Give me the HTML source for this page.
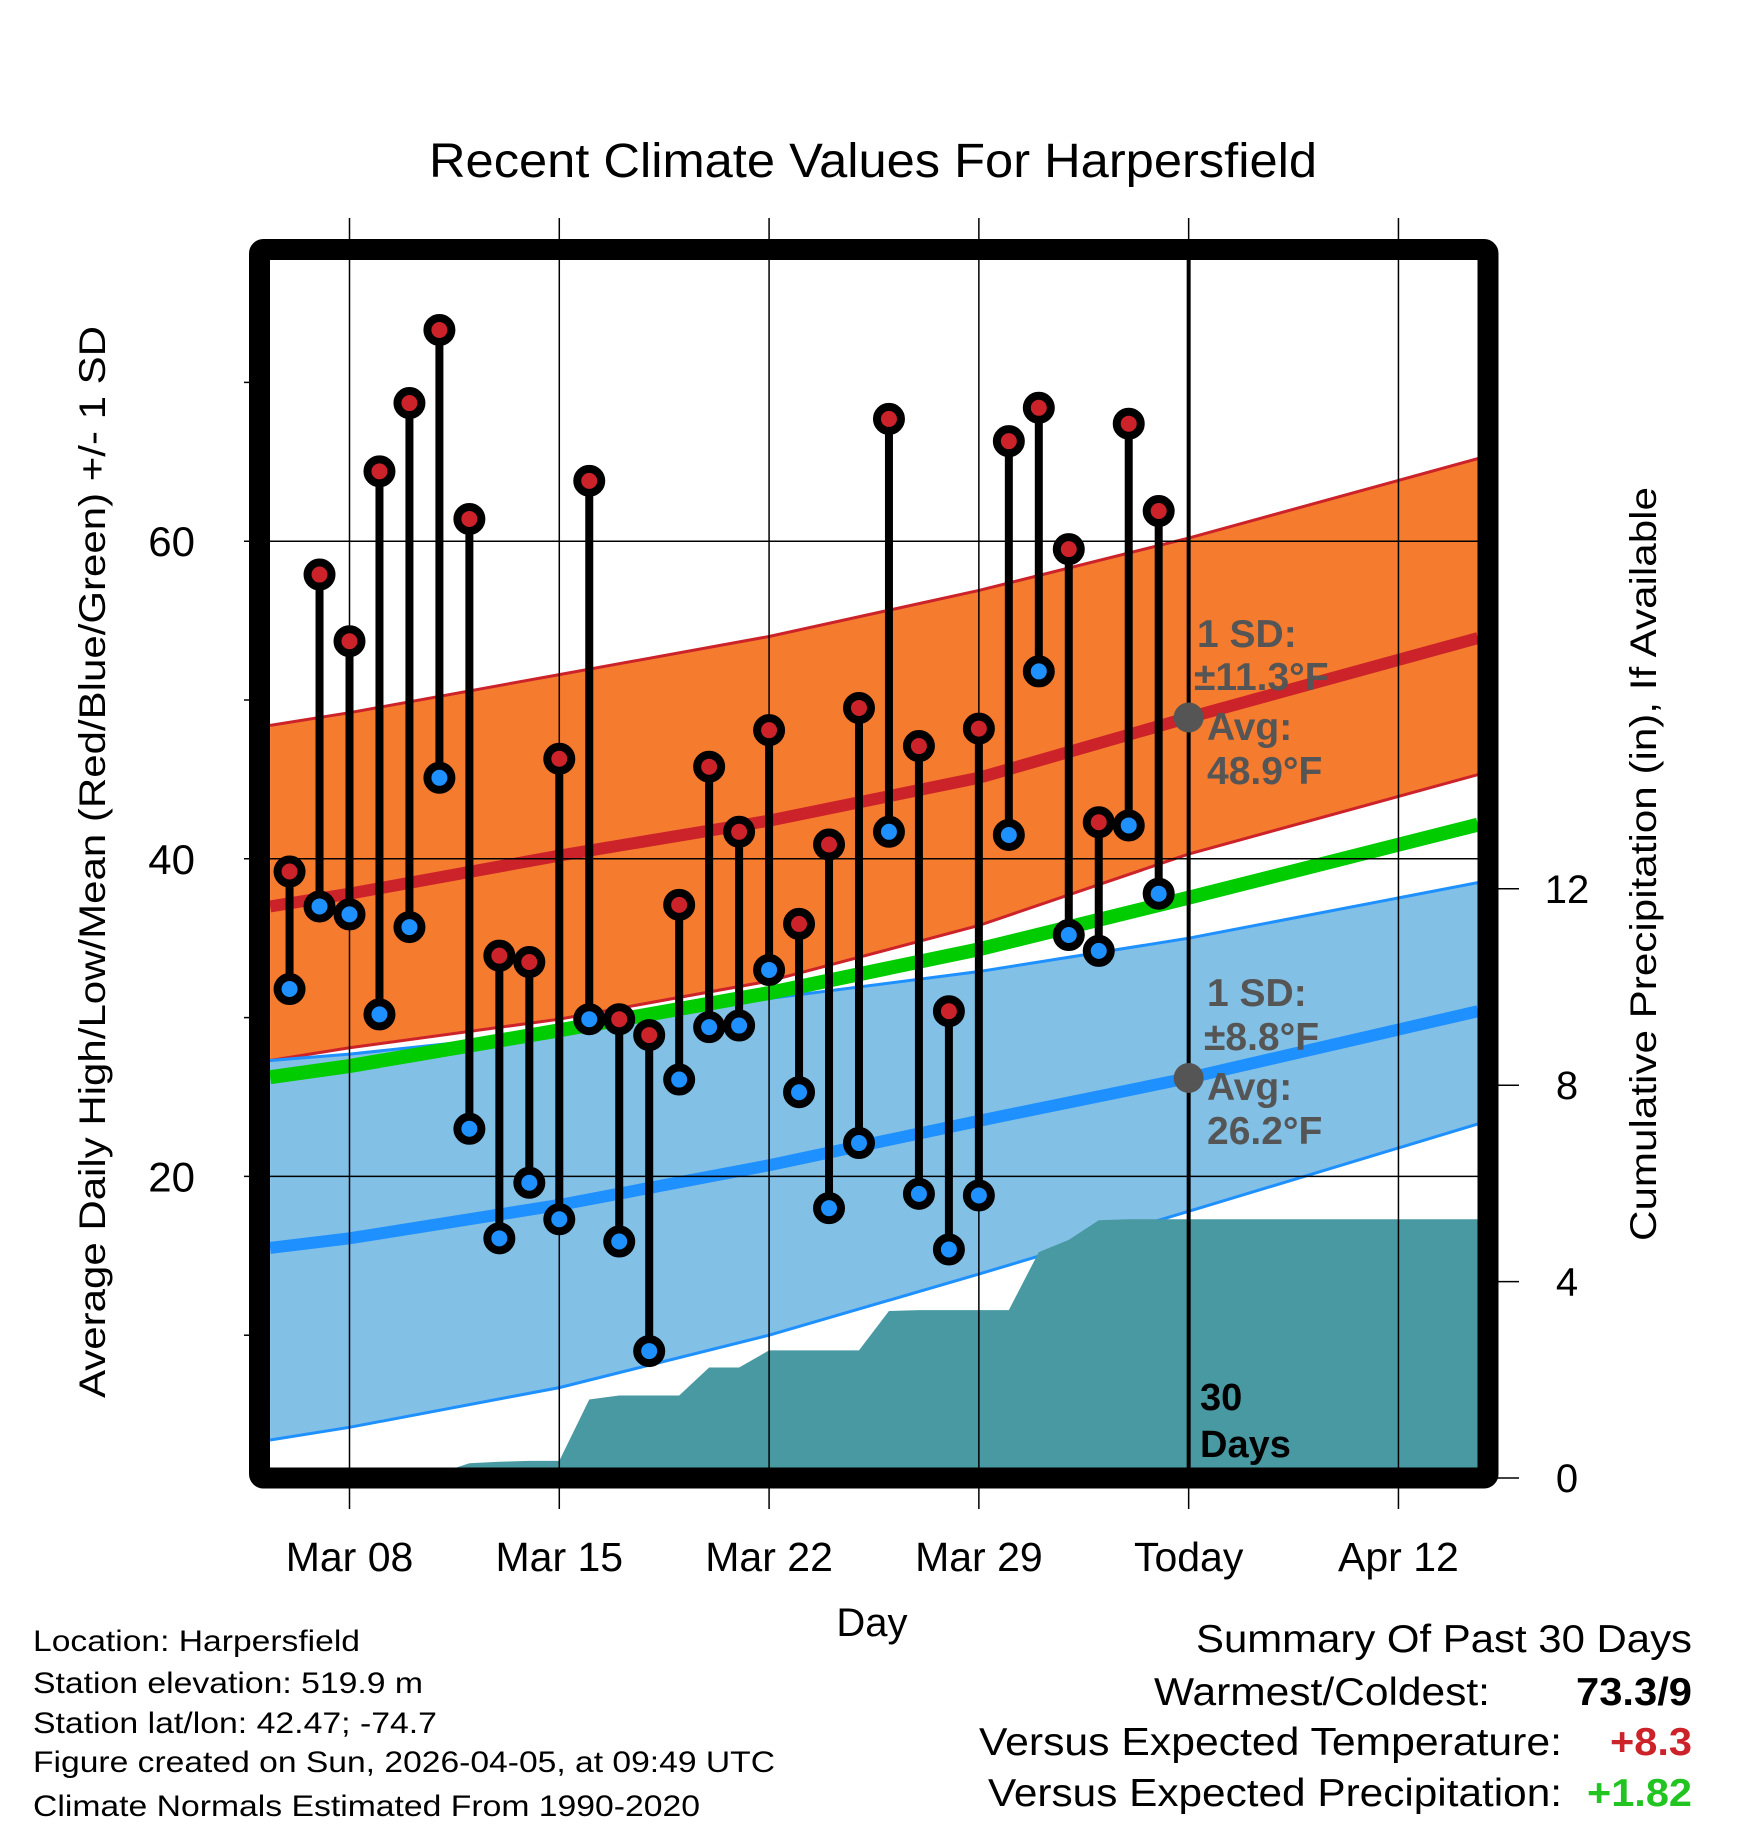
<!DOCTYPE html>
<html><head><meta charset="utf-8"><style>
html,body{margin:0;padding:0;background:#fff;}
svg{display:block;font-family:"Liberation Sans",Arial,sans-serif;}
</style></head><body>
<svg id="chart" width="1748" height="1828" viewBox="0 0 1748 1828" xmlns="http://www.w3.org/2000/svg">
<rect x="0" y="0" width="1748" height="1828" fill="#fff"/>
<text x="873" y="177" font-size="48" text-anchor="middle" textLength="888" lengthAdjust="spacingAndGlyphs">Recent Climate Values For Harpersfield</text>
<g id="plot"></g>
<text x="872" y="1636" font-size="40" text-anchor="middle">Day</text>
<text transform="translate(105,862) rotate(-90)" font-size="37" text-anchor="middle" textLength="1072" lengthAdjust="spacingAndGlyphs">Average Daily High/Low/Mean (Red/Blue/Green) +/- 1 SD</text>
<text transform="translate(1656,864) rotate(-90)" font-size="37" text-anchor="middle" textLength="754" lengthAdjust="spacingAndGlyphs">Cumulative Precipitation (in), If Available</text>
<g font-size="30">
<text x="33" y="1651" textLength="327" lengthAdjust="spacingAndGlyphs">Location: Harpersfield</text>
<text x="33" y="1693" textLength="390" lengthAdjust="spacingAndGlyphs">Station elevation: 519.9 m</text>
<text x="33" y="1733" textLength="404" lengthAdjust="spacingAndGlyphs">Station lat/lon: 42.47; -74.7</text>
<text x="33" y="1772" textLength="742" lengthAdjust="spacingAndGlyphs">Figure created on Sun, 2026-04-05, at 09:49 UTC</text>
<text x="33" y="1816" textLength="667" lengthAdjust="spacingAndGlyphs">Climate Normals Estimated From 1990-2020</text>
</g>
<g font-size="39">
<text x="1692" y="1652" text-anchor="end" textLength="496" lengthAdjust="spacingAndGlyphs">Summary Of Past 30 Days</text>
<text x="1490" y="1705" text-anchor="end" textLength="336" lengthAdjust="spacingAndGlyphs">Warmest/Coldest:</text>
<text x="1692" y="1705" text-anchor="end" font-weight="bold" textLength="116" lengthAdjust="spacingAndGlyphs">73.3/9</text>
<text x="1562" y="1755" text-anchor="end" textLength="583" lengthAdjust="spacingAndGlyphs">Versus Expected Temperature:</text>
<text x="1692" y="1755" text-anchor="end" font-weight="bold" fill="#cc2229" textLength="82" lengthAdjust="spacingAndGlyphs">+8.3</text>
<text x="1562" y="1806" text-anchor="end" textLength="574" lengthAdjust="spacingAndGlyphs">Versus Expected Precipitation:</text>
<text x="1692" y="1806" text-anchor="end" font-weight="bold" fill="#22c422" textLength="105" lengthAdjust="spacingAndGlyphs">+1.82</text>
</g>
</svg>
<script>
// data
const obsDays = [-2,-1,0,1,2,3,4,5,6,7,8,9,10,11,12,13,14,15,16,17,18,19,20,21,22,23,24,25,26,27];
const highs = [39.2,57.9,53.7,64.4,68.7,73.3,61.4,33.9,33.5,46.3,63.8,29.9,28.9,37.1,45.8,41.7,48.1,35.9,40.9,49.5,67.7,47.1,30.4,48.2,66.3,68.4,59.5,42.3,67.4,61.9];
const lows = [31.8,37.0,36.5,30.2,35.7,45.1,23.0,16.1,19.6,17.3,29.9,15.9,9.0,26.1,29.4,29.5,33.0,25.3,18.0,22.1,41.7,18.9,15.4,18.8,41.5,51.8,35.2,34.2,42.1,37.8];
const precip = [0,0,0,0,0.02,0.1,0.3,0.33,0.35,0.35,1.6,1.68,1.68,1.68,2.25,2.25,2.6,2.6,2.6,2.6,3.4,3.42,3.42,3.42,3.42,4.6,4.85,5.25,5.27,5.27];
const normDays = [-2.65,0,7,14,21,28,37.65];
const hiMean = [37.0,37.8,40.2,42.4,45.1,48.9,53.9];
const hiUpper = [48.4,49.2,51.6,54.0,56.9,60.2,65.2];
const hiLower = [27.3,28.1,29.9,32.3,35.8,40.3,45.3];
const loMean = [15.5,16.1,18.2,20.7,23.5,26.2,30.4];
const loUpper = [27.3,27.7,29.1,31.2,32.9,35.0,38.5];
const loLower = [3.4,4.2,6.7,10.0,13.85,17.8,23.3];
const avgMean = [26.25,26.95,29.2,31.55,34.3,37.55,42.15];
const xTickDays = [0,7,14,21,28,35];
const xTickLabels = ["Mar 08","Mar 15","Mar 22","Mar 29","Today","Apr 12"];
const yTicks = [20,40,60];
const yMinor = [10,30,50,70];
const pTicks = [0,4,8,12];
const todayDay = 28;

const X = d => 349.5 + 29.97*d;
const Y = t => 858.8 - (t-40)*15.88;
const P = p => 1478 - p*49.1;
const NS = "http://www.w3.org/2000/svg";
const plot = document.getElementById('plot');
function mk(tag, attrs, parent){const e=document.createElementNS(NS,tag);for(const k in attrs)e.setAttribute(k,attrs[k]);(parent||plot).appendChild(e);return e;}
const L=270,R=1478,T=260,B=1468;

const defs=mk('defs',{});
const cp=mk('clipPath',{id:'clip'},defs); mk('rect',{x:L,y:T,width:R-L,height:B-T},cp);
const g=mk('g',{'clip-path':'url(#clip)'});



function band(up,lo){let s='';normDays.forEach((d,i)=>{s+=(i?'L':'M')+X(d)+','+Y(up[i]);});for(let i=normDays.length-1;i>=0;i--)s+='L'+X(normDays[i])+','+Y(lo[i]);return s+'Z';}
function line(arr){return normDays.map((d,i)=>(i?'L':'M')+X(d)+','+Y(arr[i])).join('');}

let e=mk('path',{d:band(hiUpper,hiLower),fill:'#f57b2f'},g);

e=mk('path',{d:band(loUpper,loLower),fill:'#82c0e6'},g);

[[hiUpper,'#cc2229'],[hiLower,'#cc2229'],[loUpper,'#1e90ff'],[loLower,'#1e90ff']].forEach(([a,c])=>{
 const l=mk('path',{d:line(a),fill:'none',stroke:c,'stroke-width':3},g);
 
});
let pd='M'+L+','+B+'L'+X(obsDays[0])+','+P(precip[0]);
obsDays.forEach((d,i)=>{pd+='L'+X(d)+','+P(precip[i]);});
pd+='L'+R+','+P(precip[precip.length-1])+'L'+R+','+B+'Z';
e=mk('path',{d:pd,fill:'#4899a2'},g);

xTickDays.forEach(d=>{const l=mk('line',{x1:X(d),x2:X(d),y1:218,y2:1509,stroke:'#000','stroke-width':1.5});
 });
yTicks.forEach(t=>{const l=mk('line',{x1:244,x2:R,y1:Y(t),y2:Y(t),stroke:'#000','stroke-width':1.5});
 });
yMinor.forEach(t=>{const l=mk('line',{x1:244,x2:260,y1:Y(t),y2:Y(t),stroke:'#000','stroke-width':1.5});
 });
pTicks.forEach(p=>{const l=mk('line',{x1:1488,x2:1519,y1:P(p),y2:P(p),stroke:'#000','stroke-width':1.5});
 
 const t=mk('text',{x:1567,y:P(p)+14,'font-size':40,'text-anchor':'middle'});t.textContent=p;
 });
[[hiMean,'#cc2229',12,'high-mean-line'],[loMean,'#1e90ff',12,'low-mean-line'],[avgMean,'#00cc00',14,'avg-mean-line']].forEach(([a,c,w,n])=>{
 const l=mk('path',{d:line(a),fill:'none',stroke:c,'stroke-width':w},g);
 
});
e=mk('line',{x1:X(todayDay),x2:X(todayDay),y1:T,y2:B,stroke:'#000','stroke-width':4});

obsDays.forEach((d,i)=>{
 const s=mk('line',{x1:X(d),x2:X(d),y1:Y(highs[i]),y2:Y(lows[i]),stroke:'#000','stroke-width':8});
 
});
obsDays.forEach((d,i)=>{
 const h=mk('circle',{cx:X(d),cy:Y(highs[i]),r:12,fill:'#cc2229',stroke:'#000','stroke-width':8});
 
 const l=mk('circle',{cx:X(d),cy:Y(lows[i]),r:12,fill:'#1e90ff',stroke:'#000','stroke-width':8});
 
});
[[hiMean[5]],[loMean[5]]].forEach(([v])=>{const c=mk('circle',{cx:X(todayDay),cy:Y(v),r:15,fill:'#555'});
 });
const ann=[["1 SD:",1197,647],["±11.3°F",1194,690],["Avg:",1207,740],["48.9°F",1207,784],
 ["1 SD:",1207,1006],["±8.8°F",1204,1050],["Avg:",1207,1100],["26.2°F",1207,1144]];
ann.forEach(([t,x,y])=>{const e=mk('text',{x:x,y:y,'font-size':39,'font-weight':'bold',fill:'#555'});e.textContent=t;
 });
[["30",1200,1410],["Days",1200,1457]].forEach(([t,x,y])=>{const e=mk('text',{x:x,y:y,'font-size':38,'font-weight':'bold'});e.textContent=t;
 });
e=mk('rect',{x:259.5,y:249.5,width:1228.5,height:1228.5,fill:'none',stroke:'#000','stroke-width':21,rx:4});

xTickDays.forEach((d,i)=>{const t=mk('text',{x:X(d),y:1571,'font-size':41,'text-anchor':'middle'});t.textContent=xTickLabels[i];
 });
yTicks.forEach(v=>{const t=mk('text',{x:195,y:Y(v)+15,'font-size':42,'text-anchor':'end'});t.textContent=v;
 });
</script>
</body></html>
